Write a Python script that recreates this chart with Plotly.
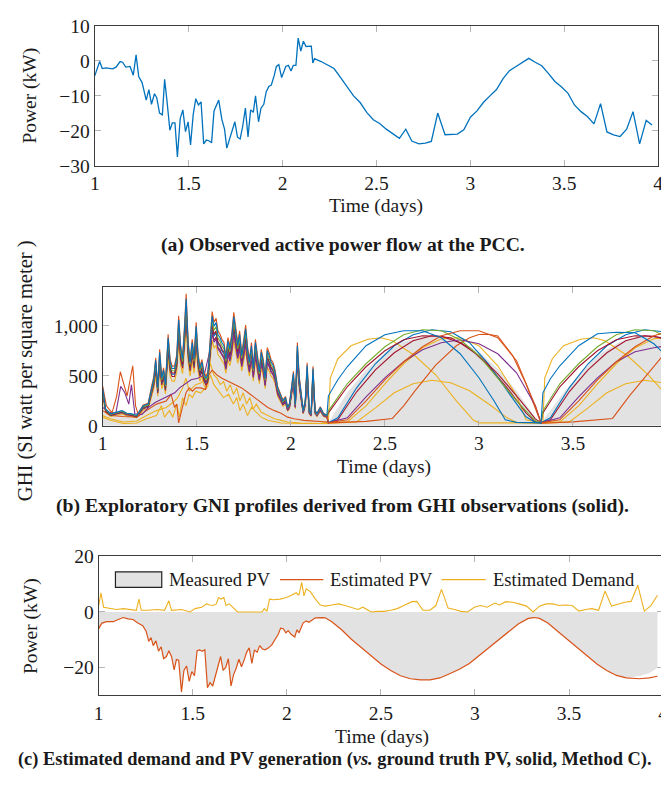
import plotly.graph_objects as go

# ---------------- Panel (a): observed active power at PCC ----------------
pcc_t = [1.0, 1.026, 1.04, 1.06, 1.095, 1.113, 1.135, 1.148, 1.165, 1.188,
         1.205, 1.22, 1.234, 1.252, 1.274, 1.288, 1.302, 1.318, 1.33, 1.345,
         1.36, 1.372, 1.385, 1.40, 1.413, 1.427, 1.44, 1.455, 1.469, 1.483,
         1.497, 1.51, 1.524, 1.538, 1.552, 1.566, 1.58, 1.594, 1.608, 1.622,
         1.635, 1.66, 1.677, 1.691, 1.703, 1.72, 1.733, 1.746, 1.76, 1.774,
         1.788, 1.802, 1.816, 1.83, 1.844, 1.856, 1.872, 1.885, 1.9, 1.913,
         1.927, 1.94, 1.955, 1.967, 1.98, 1.995, 2.017, 2.031, 2.045, 2.057,
         2.071, 2.083, 2.097, 2.111, 2.125, 2.139, 2.153, 2.161, 2.17, 2.205,
         2.24, 2.274, 2.309, 2.344, 2.378, 2.413, 2.448, 2.483, 2.517, 2.552,
         2.587, 2.622, 2.656, 2.688, 2.726, 2.76, 2.792, 2.826, 2.865, 2.9,
         2.93, 2.965, 3.0, 3.035, 3.069, 3.104, 3.139, 3.174, 3.208, 3.243,
         3.278, 3.311, 3.345, 3.38, 3.415, 3.45, 3.484, 3.519, 3.554, 3.589,
         3.623, 3.658, 3.693, 3.727, 3.762, 3.797, 3.832, 3.866, 3.901, 3.936,
         3.967]
pcc_kw = [-4.3, -0.2, -2.2, -2.0, -2.3, -1.8, -0.2, -0.4, -1.8, -1.6,
          -4.1, 1.7, -4.5, -6.2, -11.2, -8.2, -12.4, -9.4, -10.5, -14.9,
          -15.4, -5.3, -11.7, -19.8, -17.7, -17.7, -27.4, -16.5, -14.0, -20.2,
          -17.4, -24.0, -15.4, -10.8, -12.6, -11.7, -23.7, -22.6, -22.8, -23.4,
          -14.3, -11.2, -16.8, -19.5, -24.9, -21.8, -19.1, -17.4, -21.8, -22.3,
          -18.6, -13.5, -21.7, -14.0, -14.7, -10.0, -17.4, -13.5, -12.4, -8.8,
          -7.3, -6.9, -4.3, -1.6, -1.1, -4.8, -1.6, -1.3, -2.9, -1.3,
          -1.3, 6.5, 2.8, 5.6, 4.1, 4.1, 4.2, -0.6, 0.6, -0.2,
          -1.3, -2.2, -4.8, -7.6, -10.0, -11.9, -14.7, -16.8, -17.9, -19.5,
          -20.7, -22.1, -19.5, -22.9, -23.7, -23.5, -23.0, -14.9, -21.1, -21.1,
          -20.9, -19.7, -16.1, -14.3, -11.9, -10.0, -8.2, -5.1, -2.8, -1.6,
          -0.4, 0.7, -0.4, -1.4, -3.6, -5.9, -7.4, -9.2, -12.6, -14.5,
          -15.9, -18.0, -12.2, -20.3, -21.1, -21.6, -19.5, -14.5, -23.7, -17.0,
          -18.3]

# ---------------- Panel (b): GHI / GNI profiles ----------------
cluster_t = [1.0, 1.016, 1.042, 1.077, 1.103, 1.129, 1.155, 1.181, 1.199, 1.216,
             1.242, 1.26, 1.272, 1.282, 1.293, 1.303, 1.314, 1.324, 1.334, 1.348,
             1.359, 1.369, 1.382, 1.394, 1.404, 1.415, 1.425, 1.434, 1.444, 1.455,
             1.465, 1.476, 1.486, 1.497, 1.507, 1.517, 1.528, 1.538, 1.549, 1.559,
             1.573, 1.582, 1.592, 1.603, 1.613, 1.624, 1.634, 1.645, 1.655, 1.666,
             1.676, 1.686, 1.697, 1.707, 1.718, 1.728, 1.739, 1.749, 1.76, 1.77,
             1.78, 1.791, 1.801, 1.812, 1.822, 1.833, 1.843, 1.854, 1.864, 1.875,
             1.885, 1.895, 1.906, 1.916, 1.93, 1.944, 1.958, 1.972, 1.983, 1.993,
             2.003, 2.014, 2.024, 2.035, 2.045, 2.056, 2.066, 2.077, 2.087, 2.098,
             2.108, 2.118, 2.129, 2.139, 2.157, 2.174, 2.192]
cluster_v = [380, 170, 120, 136, 152, 126, 120, 104, 152, 200,
             217, 380, 475, 654, 380, 735, 475, 557, 411, 880,
             637, 573, 573, 686, 1058, 767, 670, 929, 1268, 800,
             637, 832, 670, 994, 702, 573, 637, 524, 476, 508,
             929, 1097, 994, 1032, 913, 880, 832, 800, 670, 848,
             767, 880, 1090, 961, 800, 913, 702, 816, 968, 767,
             637, 800, 573, 832, 670, 540, 735, 637, 476, 751,
             702, 637, 605, 540, 379, 314, 249, 282, 184, 217,
             379, 524, 217, 800, 476, 282, 152, 249, 605, 152,
             120, 573, 152, 120, 184, 120, 104]

lowred_t = [1.0, 1.042, 1.111, 1.181, 1.233, 1.286, 1.338, 1.364, 1.382, 1.394,
            1.404, 1.422, 1.443, 1.46, 1.477, 1.495, 1.521, 1.547, 1.564, 1.582,
            1.608, 1.634, 1.669, 1.704, 1.739, 1.774, 1.808, 1.843, 1.878, 1.913,
            1.948, 1.983, 2.017, 2.07, 2.122, 2.192]
lowred_v = [152, 104, 94, 87, 152, 217, 249, 314, 184, 217,
            29, 184, 330, 379, 346, 379, 379, 362, 508, 557,
            508, 476, 443, 411, 379, 330, 282, 233, 184, 152,
            126, 87, 71, 55, 49, 39]

yel1_t = [1.0, 1.042, 1.111, 1.181, 1.233, 1.286, 1.338, 1.373, 1.399, 1.425,
          1.443, 1.46, 1.477, 1.495, 1.521, 1.547, 1.573, 1.591, 1.608, 1.625,
          1.643, 1.66, 1.678, 1.695, 1.713, 1.73, 1.747, 1.765, 1.782, 1.8,
          1.817, 1.843, 1.878, 1.913, 1.948, 1.983, 2.052, 2.157]
yel1_v = [104, 71, 39, 49, 104, 152, 184, 233, 282, 379,
          476, 346, 379, 411, 427, 476, 621, 508, 476, 411,
          443, 346, 411, 314, 379, 249, 330, 217, 282, 168,
          217, 136, 104, 71, 55, 39, 29, 23]

yel2_t = [1.0, 1.042, 1.111, 1.181, 1.233, 1.286, 1.312, 1.329, 1.355, 1.373,
          1.394, 1.408, 1.425, 1.443, 1.46, 1.477, 1.495, 1.521, 1.547, 1.573,
          1.591, 1.617, 1.643, 1.669, 1.695, 1.713, 1.73, 1.747, 1.77, 1.791,
          1.817, 1.843, 1.878, 1.948, 2.052, 2.157]
yel2_v = [87, 55, 23, 29, 71, 104, 201, 87, 152, 87,
          217, 87, 282, 201, 314, 282, 346, 330, 379, 508,
          411, 346, 282, 314, 217, 282, 152, 217, 104, 184,
          136, 87, 55, 29, 23, 23]

purple_early_t = [1.0, 1.035, 1.07, 1.096, 1.118, 1.139, 1.153, 1.171, 1.209, 1.244,
                  1.279, 1.314, 1.348, 1.383, 1.409, 1.436, 1.47, 1.505, 1.54, 1.57]
purple_early_v = [184, 136, 126, 395, 330, 217, 411, 120, 113, 184,
                  233, 265, 298, 330, 379, 411, 460, 476, 508, 751]

red_early_t = [1.0, 1.02, 1.05, 1.075, 1.094, 1.11, 1.13, 1.16, 1.175, 1.19]
red_early_v = [400, 200, 130, 300, 540, 420, 300, 600, 200, 110]

# right-hand (clear-sky) arcs of each exploratory profile
s1_t = [2.20, 2.25, 2.30, 2.40, 2.50, 2.60, 2.70, 2.80, 2.90, 3.00, 3.08, 3.14, 3.20, 3.33,
        3.34, 3.38, 3.43, 3.53, 3.63, 3.73, 3.83, 3.93, 4.00]
s1_v = [300, 460, 590, 800, 910, 950, 950, 880, 720, 480, 250, 60, 35, 30,
        330, 470, 600, 800, 920, 935, 930, 820, 690]
s2_t = [2.20, 2.40, 2.54, 2.60, 2.66, 2.77, 2.88, 2.95, 3.00, 3.05, 3.10, 3.18, 3.25, 3.33,
        3.50, 3.71, 3.80, 3.90, 3.97, 4.00]
s2_v = [30, 45, 74, 200, 350, 606, 800, 880, 913, 915, 897, 700, 420, 26,
        40, 74, 300, 520, 683, 700]
s3_t = [2.20, 2.21, 2.25, 2.32, 2.41, 2.48, 2.54, 2.66, 2.77, 2.88, 2.97, 3.00, 3.34,
        3.35, 3.39, 3.45, 3.54, 3.61, 3.67, 3.79, 3.90, 4.00]
s3_v = [40, 477, 670, 800, 865, 880, 850, 700, 510, 250, 58, 30, 30,
        480, 670, 800, 865, 880, 850, 700, 510, 300]
s4_t = [2.20, 2.35, 2.45, 2.55, 2.65, 2.75, 2.85, 2.95, 3.05, 3.15, 3.20, 3.33,
        3.48, 3.58, 3.68, 3.78, 3.88, 3.98, 4.00]
s4_v = [25, 40, 180, 330, 420, 455, 430, 350, 220, 80, 35, 25,
        40, 180, 330, 420, 455, 430, 420]
s5_t = [2.20, 2.30, 2.40, 2.50, 2.60, 2.70, 2.80, 2.90, 3.00, 3.10, 3.20, 3.30, 3.33,
        3.34, 3.43, 3.53, 3.63, 3.73, 3.83, 3.93, 4.00]
s5_v = [150, 420, 620, 790, 910, 960, 950, 860, 700, 480, 250, 50, 30,
        150, 420, 620, 790, 910, 960, 950, 880]
s6_t = [2.20, 2.30, 2.40, 2.50, 2.60, 2.70, 2.80, 2.90, 3.00, 3.10, 3.20, 3.30, 3.33,
        3.34, 3.43, 3.53, 3.63, 3.73, 3.83, 3.93, 4.00]
s6_v = [130, 390, 590, 750, 860, 900, 895, 830, 700, 520, 300, 70, 30,
        130, 390, 590, 750, 860, 900, 895, 860]
s7_t = [2.20, 2.30, 2.40, 2.50, 2.60, 2.70, 2.80, 2.90, 3.00, 3.10, 3.20, 3.30, 3.33,
        3.43, 3.53, 3.63, 3.73, 3.83, 3.93, 4.00]
s7_v = [30, 80, 290, 480, 640, 760, 830, 860, 820, 720, 530, 200, 30,
        80, 290, 480, 640, 740, 780, 800]
s8_t = [2.20, 2.25, 2.35, 2.45, 2.55, 2.65, 2.75, 2.85, 2.95, 3.05, 3.15, 3.25, 3.30, 3.33,
        3.38, 3.48, 3.58, 3.68, 3.78, 3.88, 3.98, 4.00]
s8_v = [30, 80, 380, 620, 800, 910, 960, 940, 830, 620, 350, 90, 35, 30,
        80, 380, 620, 800, 910, 960, 940, 930]
s9_t = [2.20, 2.30, 2.40, 2.50, 2.60, 2.70, 2.80, 2.90, 3.00, 3.10, 3.20, 3.30, 3.33,
        3.43, 3.53, 3.63, 3.73, 3.83, 3.93, 4.00]
s9_v = [30, 60, 250, 460, 640, 790, 900, 950, 950, 880, 650, 200, 30,
        60, 250, 460, 640, 790, 900, 940]
s10_t = [2.20, 2.30, 2.40, 2.50, 2.60, 2.70, 2.80, 2.90, 3.00, 3.10, 3.20, 3.25, 3.33,
         3.43, 3.53, 3.63, 3.73, 3.83, 3.93, 4.00]
s10_v = [30, 40, 200, 420, 620, 780, 870, 880, 800, 600, 300, 60, 30,
         40, 200, 420, 620, 780, 870, 880]
s11_t = [2.20, 2.25, 2.35, 2.45, 2.55, 2.65, 2.75, 2.85, 2.95, 3.05, 3.15, 3.25, 3.30, 3.33,
         3.38, 3.48, 3.58, 3.68, 3.78, 3.88, 3.98, 4.00]
s11_v = [30, 60, 340, 560, 730, 850, 900, 880, 780, 600, 380, 130, 40, 30,
         60, 340, 560, 730, 850, 900, 880, 870]

ghi_right_t = [2.2, 2.3, 2.4, 2.5, 2.6, 2.7, 2.78, 2.9, 3.0, 3.1, 3.2, 3.3, 3.33,
               3.45, 3.55, 3.65, 3.75, 3.85, 3.92, 4.0]
ghi_right_v = [30, 330, 560, 730, 840, 895, 905, 850, 740, 570, 350, 80, 30,
               330, 560, 730, 840, 895, 905, 880]
ghi_left_scale = 0.85

# ---------------- Panel (c): estimated demand and PV ----------------
est_pv_t = [1.0, 1.017, 1.043, 1.078, 1.104, 1.13, 1.156, 1.182, 1.208, 1.234,
            1.252, 1.266, 1.278, 1.29, 1.304, 1.318, 1.332, 1.345, 1.36, 1.373,
            1.387, 1.401, 1.413, 1.425, 1.44, 1.453, 1.467, 1.481, 1.495, 1.509,
            1.523, 1.536, 1.55, 1.564, 1.578, 1.592, 1.606, 1.62, 1.634, 1.648,
            1.661, 1.675, 1.689, 1.703, 1.717, 1.731, 1.745, 1.759, 1.773, 1.786,
            1.8, 1.814, 1.828, 1.842, 1.856, 1.87, 1.884, 1.903, 1.92, 1.938,
            1.955, 1.967, 1.981, 1.995, 2.007, 2.024, 2.042, 2.054, 2.065, 2.086,
            2.103, 2.117, 2.135, 2.152, 2.187, 2.204, 2.239, 2.291, 2.343, 2.396,
            2.448, 2.5, 2.552, 2.604, 2.657, 2.709, 2.761, 2.813, 2.865, 2.917,
            2.97, 3.022, 3.074, 3.126, 3.178, 3.23, 3.283, 3.314, 3.343, 3.387,
            3.439, 3.491, 3.543, 3.596, 3.648, 3.7, 3.752, 3.804, 3.874, 3.926,
            3.97]
est_pv_kw = [-6.0, -4.0, -3.5, -3.5, -2.7, -2.0, -2.5, -2.7, -4.0, -4.9,
             -6.9, -10.6, -9.2, -12.1, -10.4, -14.1, -12.5, -16.8, -16.0, -13.9,
             -16.0, -20.8, -17.1, -17.3, -28.7, -21.0, -19.4, -24.9, -21.4, -22.9,
             -13.9, -13.6, -14.1, -13.6, -27.2, -25.4, -26.6, -23.1, -19.1, -16.0,
             -21.0, -19.9, -16.8, -26.6, -22.5, -20.2, -17.0, -19.7, -17.3, -14.5,
             -12.9, -18.5, -13.6, -14.5, -12.1, -13.3, -13.6, -12.9, -11.8, -9.8,
             -7.9, -5.8, -6.0, -7.5, -6.7, -8.1, -9.0, -6.4, -7.5, -4.0,
             -3.2, -3.7, -2.7, -2.1, -2.0, -2.1, -3.5, -6.4, -9.8, -12.9,
             -16.0, -18.7, -21.0, -22.9, -24.0, -24.4, -24.4, -23.7, -22.2, -20.6,
             -18.5, -15.6, -12.7, -9.8, -6.9, -4.3, -2.3, -2.0, -2.3, -4.0,
             -6.9, -9.8, -12.9, -16.0, -18.7, -21.0, -22.8, -23.7, -24.0, -23.7,
             -23.1]
measured_pv_kw = est_pv_kw[:-3] + [-23.0, -22.0, -20.0]

demand_t = [1.0, 1.012, 1.026, 1.061, 1.095, 1.13, 1.165, 1.2, 1.214, 1.226,
            1.26, 1.312, 1.35, 1.373, 1.387, 1.44, 1.486, 1.512, 1.547, 1.573,
            1.59, 1.608, 1.625, 1.637, 1.651, 1.665, 1.677, 1.694, 1.72, 1.738,
            1.807, 1.868, 1.88, 1.894, 1.908, 1.929, 1.964, 1.998, 2.024, 2.05,
            2.064, 2.079, 2.091, 2.103, 2.126, 2.152, 2.178, 2.204, 2.239, 2.274,
            2.309, 2.343, 2.378, 2.404, 2.422, 2.448, 2.483, 2.517, 2.552, 2.587,
            2.622, 2.665, 2.691, 2.723, 2.761, 2.792, 2.822, 2.857, 2.891, 2.926,
            2.961, 2.996, 3.03, 3.065, 3.105, 3.13, 3.164, 3.199, 3.234, 3.274,
            3.309, 3.343, 3.378, 3.413, 3.448, 3.483, 3.517, 3.552, 3.587, 3.622,
            3.657, 3.691, 3.726, 3.761, 3.796, 3.83, 3.865, 3.9, 3.935, 3.97]
demand_kw = [2.3, 6.9, 1.7, 1.2, 0.9, 1.2, 0.9, 0.6, 4.6, 0.6,
             0.6, 0.9, 0.6, 4.0, 0.6, 0.9, 0.0, 1.2, 1.7, 2.9,
             2.5, 2.3, 2.9, 5.2, 4.6, 5.2, 2.3, 2.9, 1.2, 0.0,
             0.0, 0.0, 1.2, 0.2, 4.6, 4.4, 4.6, 5.2, 6.0, 6.9,
             6.0, 10.6, 5.8, 8.3, 7.2, 4.6, 2.5, 2.1, 2.5, 2.9,
             2.3, 1.7, 0.9, 1.7, 0.9, 0.0, 0.2, 0.2, 0.6, 1.2,
             2.3, 3.7, 3.8, 0.6, 0.6, 2.3, 8.1, 1.4, 0.9, 0.2,
             0.0, 1.7, 2.3, 1.7, 3.2, 2.5, 3.7, 3.5, 2.9, 2.1,
             0.0, 2.1, 2.9, 2.9, 2.3, 2.5, 2.3, 0.3, 0.9, 1.2,
             0.6, 7.5, 2.1, 2.9, 3.5, 3.8, 9.6, 0.3, 2.3, 6.0]

x_ticks = [1, 1.5, 2, 2.5, 3, 3.5, 4]
x_tick_labels = ["1", "1.5", "2", "2.5", "3", "3.5", "4"]
ya_ticks = [-30, -20, -10, 0, 10]
ya_labels = ["\u221230", "\u221220", "\u221210", "0", "10"]
yb_ticks = [0, 500, 1000]
yb_labels = ["0", "500", "1,000"]
yc_ticks = [-20, 0, 20]
yc_labels = ["\u221220", "0", "20"]

C_BLUE = "#0072BD"
C_ORANGE = "#D95319"
C_YELLOW = "#EDB120"
C_PURPLE = "#7E2F8E"
C_GREEN = "#77AC30"
C_DARKRED = "#A2142F"
C_FILL = "#e2e2e2"

W, H = 669, 789
SERIF = "Liberation Serif"
FS = 19.5        # tick / axis-title size
FS_LEG = 18.5    # legend text size
FS_CAP = 19.7    # caption size (a), (b)
FS_CAP_C = 18.4  # caption size (c)


def px(x):
    return x / W


def py(y):
    return 1 - y / H


def with_cluster(head_t, head_v, scale):
    t = list(head_t)
    v = list(head_v)
    cut = head_t[-1] if head_t else 0
    for tt, vv in zip(cluster_t, cluster_v):
        if tt > cut:
            t.append(tt)
            v.append(vv * scale)
    return t, v


fig = go.Figure()

# ----- (a)
fig.add_trace(go.Scatter(x=pcc_t, y=pcc_kw, mode="lines", xaxis="x", yaxis="y",
                         line=dict(color=C_BLUE, width=1.3)))

# ----- (b)
gl_t, gl_v = with_cluster([], [], ghi_left_scale)
fig.add_trace(go.Scatter(x=gl_t + ghi_right_t, y=gl_v + ghi_right_v, mode="lines",
                         xaxis="x2", yaxis="y2", fill="tozeroy", fillcolor=C_FILL,
                         line=dict(width=0, color=C_FILL)))

b_series = [
    (C_YELLOW, (yel2_t, yel2_v), s4_t, s4_v),
    (C_YELLOW, (yel1_t, yel1_v), s3_t, s3_v),
    (C_YELLOW, with_cluster([], [], 0.78), s10_t, s10_v),
    (C_ORANGE, (lowred_t, lowred_v), s2_t, s2_v),
    (C_DARKRED, with_cluster([], [], 0.86), s11_t, s11_v),
    (C_BLUE, with_cluster([], [], 0.90), s8_t, s8_v),
    (C_DARKRED, with_cluster([], [], 0.92), s6_t, s6_v),
    (C_PURPLE, with_cluster(purple_early_t, purple_early_v, 0.84), s7_t, s7_v),
    (C_GREEN, with_cluster([], [], 0.96), s5_t, s5_v),
    (C_ORANGE, with_cluster(red_early_t, red_early_v, 1.04), s9_t, s9_v),
    (C_BLUE, with_cluster([], [], 1.0), s1_t, s1_v),
]
for color, (lt, lv), rt, rv in b_series:
    fig.add_trace(go.Scatter(x=list(lt) + rt, y=list(lv) + rv, mode="lines",
                             xaxis="x2", yaxis="y2", line=dict(color=color, width=1.1)))

# ----- (c)
fig.add_trace(go.Scatter(x=est_pv_t, y=measured_pv_kw, mode="lines", xaxis="x3", yaxis="y3",
                         fill="tozeroy", fillcolor=C_FILL, line=dict(width=0, color=C_FILL)))
fig.add_trace(go.Scatter(x=est_pv_t, y=est_pv_kw, mode="lines", xaxis="x3", yaxis="y3",
                         line=dict(color=C_ORANGE, width=1.2)))
fig.add_trace(go.Scatter(x=demand_t, y=demand_kw, mode="lines", xaxis="x3", yaxis="y3",
                         line=dict(color=C_YELLOW, width=1.1)))

tickfont = dict(family=SERIF, size=FS, color="#1a1a1a")


def xa(domain, anchor):
    return dict(domain=domain, anchor=anchor, range=[1, 4], tickvals=x_ticks,
                ticktext=x_tick_labels, ticks="inside", ticklen=6, tickcolor="#b5b5b5",
                tickwidth=1.2, showline=True, linecolor="#3c3c3c", linewidth=1.2,
                mirror="ticks", showgrid=False, zeroline=False, tickfont=tickfont)


def ya(domain, anchor, rng, tv, tt):
    return dict(domain=domain, anchor=anchor, range=rng, tickvals=tv, ticktext=tt,
                ticks="inside", ticklen=6, tickcolor="#b5b5b5", tickwidth=1.2,
                showline=True, linecolor="#3c3c3c", linewidth=1.2, mirror="ticks",
                showgrid=False, zeroline=False, tickfont=tickfont)


annotations = []


def text(x, y, s, size=FS, angle=0, anchor="center"):
    annotations.append(dict(x=px(x), y=py(y), xref="paper", yref="paper", text=s,
                            showarrow=False, textangle=angle, xanchor=anchor,
                            yanchor="middle",
                            font=dict(family=SERIF, size=size, color="#1a1a1a")))


text(17, 80, "Power (kW)", angle=-90)
text(369, 193, "Time (days)")
text(335, 233, "<b>(a) Observed active power flow at the PCC.</b>", size=FS_CAP)

text(13, 362, "GHI (SI watt per square meter )", size=20.5, angle=-90)
text(377, 461, "Time (days)")
text(334, 501, "<b>(b) Exploratory GNI profiles derived from GHI observations (solid).</b>", size=FS_CAP)

text(19, 625, "Power (kW)", angle=-90)
text(375, 739, "Time (days)")
text(3, 762, "<b>(c) Estimated demand and PV generation (<i>vs.</i> ground truth PV, solid, Method C).</b>",
     size=FS_CAP_C, anchor="left")

# legend of panel (c)
text(156, 577, "Measured PV", size=FS_LEG, anchor="left")
text(320, 577, "Estimated PV", size=FS_LEG, anchor="left")
text(485, 577, "Estimated Demand", size=FS_LEG, anchor="left")
shapes = [
    dict(type="rect", xref="paper", yref="paper", x0=px(104), x1=px(151), y0=py(585), y1=py(569),
         fillcolor=C_FILL, line=dict(color="#222222", width=1.2)),
    dict(type="line", xref="paper", yref="paper", x0=px(271), x1=px(315), y0=py(577), y1=py(577),
         line=dict(color=C_ORANGE, width=1.2)),
    dict(type="line", xref="paper", yref="paper", x0=px(435), x1=px(480), y0=py(577), y1=py(577),
         line=dict(color=C_YELLOW, width=1.2)),
]

fig.update_layout(
    width=W, height=H, margin=dict(l=0, r=0, t=0, b=0),
    paper_bgcolor="white", plot_bgcolor="white", showlegend=False,
    xaxis=xa([px(83), px(655)], "y"),
    yaxis=ya([py(152), py(8)], "x", [-30, 10], ya_ticks, ya_labels),
    xaxis2=xa([px(91), px(664)], "y2"),
    yaxis2=ya([py(419), py(276)], "x2", [0, 1390], yb_ticks, yb_labels),
    xaxis3=xa([px(87), px(660)], "y3"),
    yaxis3=ya([py(696), py(553)], "x3", [-30, 20], yc_ticks, yc_labels),
    annotations=annotations, shapes=shapes,
)

fig.write_html("out.html")
